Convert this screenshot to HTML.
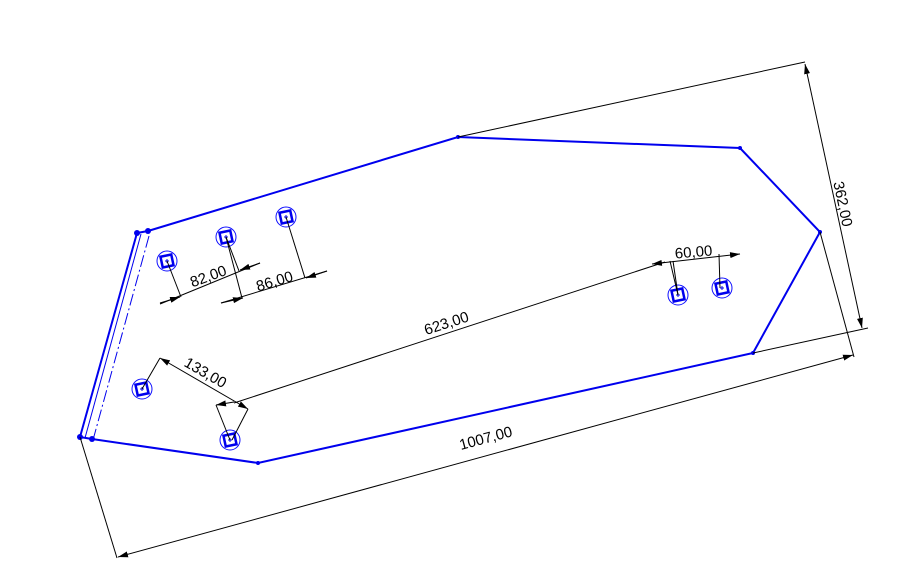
<!DOCTYPE html>
<html><head><meta charset="utf-8"><style>
html,body{margin:0;padding:0;background:#fff;}
svg{display:block;}
text{font-family:"Liberation Sans",sans-serif;font-size:15px;fill:#000;}
</style></head><body>
<svg width="914" height="577" viewBox="0 0 914 577" xmlns="http://www.w3.org/2000/svg">
<defs>
<marker id="a" viewBox="0 0 10 6" refX="10" refY="3" markerWidth="10" markerHeight="6" orient="auto-start-reverse" markerUnits="userSpaceOnUse"><path d="M0,0 L10,3 L0,6z" fill="#000"/></marker>
<g id="h"><circle r="10" fill="none" stroke="#1010ff" stroke-width="1"/><rect x="-5.5" y="-5.5" width="11" height="11" fill="none" stroke="#0000ee" stroke-width="2.5" transform="rotate(-12)"/><path d="M-2,0h4M0,-2v4" stroke="#0000ee" stroke-width="1"/></g>
</defs>
<g stroke="#0000ee" stroke-width="2" fill="none">
<polyline points="148,231 458,137 740,148 820,232 753,353 258,463 92,439"/>
<line x1="137" y1="233" x2="80" y2="437"/>
<line x1="141" y1="234" x2="85" y2="438" stroke-width="1"/>
<line x1="137" y1="233" x2="148" y2="231"/>
<line x1="80" y1="437" x2="92" y2="439"/>
</g>
<line x1="149" y1="236" x2="93" y2="440" stroke="#0000ee" stroke-width="1" stroke-dasharray="12,3,2,3"/>
<g fill="#0000ee"><circle cx="137" cy="233" r="3"/><circle cx="148" cy="231" r="3"/><circle cx="80" cy="437" r="3"/><circle cx="92" cy="439" r="3"/><circle cx="458" cy="137" r="2"/><circle cx="740" cy="148" r="2"/><circle cx="820" cy="232" r="2"/><circle cx="753" cy="353" r="2"/><circle cx="258" cy="463" r="2"/></g>
<use href="#h" x="167" y="261"/><use href="#h" x="226" y="237"/><use href="#h" x="286" y="217"/>
<use href="#h" x="142" y="389"/><use href="#h" x="230" y="440"/><use href="#h" x="678" y="295"/><use href="#h" x="722" y="288"/>
<g stroke="#000" stroke-width="1" fill="none">
<line x1="458" y1="137" x2="805" y2="62"/>
<line x1="753" y1="353" x2="868" y2="328"/>
<line x1="805" y1="64" x2="862" y2="328" marker-start="url(#a)" marker-end="url(#a)"/>
<line x1="820" y1="232" x2="854" y2="357"/>
<line x1="80" y1="437" x2="117" y2="558"/>
<line x1="118" y1="557" x2="853" y2="355" marker-start="url(#a)" marker-end="url(#a)"/>
<line x1="234" y1="403" x2="665" y2="262"/>
<line x1="652" y1="264" x2="740" y2="254" marker-start="url(#a)" marker-end="url(#a)"/>
<line x1="678" y1="295" x2="670" y2="261"/><line x1="678" y1="295" x2="673" y2="261"/>
<line x1="720" y1="288" x2="719" y2="254"/>
<line x1="160" y1="304" x2="260" y2="263"/>
<line x1="221" y1="303" x2="327" y2="271"/>
<line x1="160" y1="303" x2="180" y2="297" marker-end="url(#a)"/>
<line x1="260" y1="263" x2="240" y2="270" marker-end="url(#a)"/>
<line x1="221" y1="303" x2="243" y2="298" marker-end="url(#a)"/>
<line x1="327" y1="271" x2="306" y2="278" marker-end="url(#a)"/>
<line x1="167" y1="261" x2="181" y2="297"/>
<line x1="226" y1="237" x2="242" y2="298"/><line x1="226" y1="237" x2="239" y2="271"/>
<line x1="286" y1="217" x2="305" y2="278"/>
<line x1="160" y1="358" x2="248" y2="409" marker-start="url(#a)" marker-end="url(#a)"/>
<line x1="142" y1="389" x2="160" y2="358"/>
<line x1="216" y1="405" x2="230" y2="440"/>
<line x1="248" y1="409" x2="232" y2="440"/>
<line x1="216" y1="405" x2="234" y2="402" marker-start="url(#a)"/>
</g>
<text transform="translate(838,205) rotate(78)" text-anchor="middle">362,00</text>
<text transform="translate(487,443) rotate(-15)" text-anchor="middle">1007,00</text>
<text transform="translate(448,328) rotate(-18)" text-anchor="middle">623,00</text>
<text transform="translate(694,257) rotate(-5)" text-anchor="middle">60,00</text>
<text transform="translate(210,281) rotate(-20)" text-anchor="middle">82,00</text>
<text transform="translate(276,286) rotate(-17)" text-anchor="middle">86,00</text>
<text transform="translate(203,377) rotate(30)" text-anchor="middle">133,00</text>
</svg>
</body></html>
